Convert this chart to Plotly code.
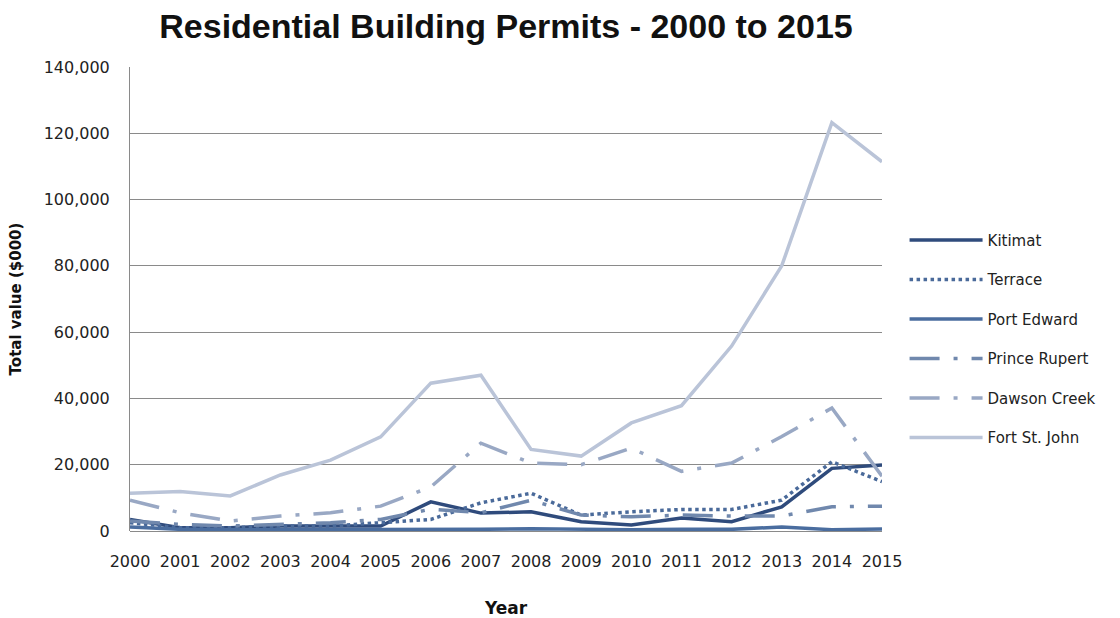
import plotly.graph_objects as go

years = list(range(2000, 2016))

kitimat = [3500, 1000, 1000, 1500, 1500, 1500, 8800, 5400, 5800, 2800, 1800, 3900, 2800, 7300, 18900, 19900]
terrace = [2500, 1000, 1000, 1500, 1500, 2500, 3500, 8500, 11400, 4800, 5800, 6500, 6500, 9300, 20900, 14900]
port_edward = [1200, 500, 400, 400, 400, 400, 600, 500, 700, 500, 400, 500, 500, 1200, 400, 600]
prince_rupert = [3000, 2000, 1500, 2000, 2500, 3500, 6600, 5500, 9300, 4800, 4300, 4800, 4500, 4500, 7300, 7500]
dawson_creek = [9300, 5500, 3000, 4500, 5500, 7500, 13300, 26500, 20500, 20000, 25000, 18000, 20500, 28500, 37100, 16500]
fort_st_john = [11400, 11900, 10600, 16900, 21400, 28400, 44600, 47000, 24600, 22600, 32600, 37800, 55800, 80000, 123200, 111400]

long_dash_dot = "30px,14px,4px,14px"
series = [
    ("Kitimat", kitimat, "#2f4b7c", "solid"),
    ("Terrace", terrace, "#4a6a9a", "dot"),
    ("Port Edward", port_edward, "#4a6d9f", "solid"),
    ("Prince Rupert", prince_rupert, "#7088ad", long_dash_dot),
    ("Dawson Creek", dawson_creek, "#99a8c4", long_dash_dot),
    ("Fort St. John", fort_st_john, "#bac4d8", "solid"),
]

fig = go.Figure()
for name, values, color, dash in series:
    fig.add_trace(go.Scatter(
        x=years, y=values, name=name, mode="lines",
        line=dict(color=color, dash=dash, width=3.5),
        legendgroup=name,
    ))

tick_font = dict(family="DejaVu Sans", size=16, color="#222222")

fig.update_layout(
    width=1120, height=618,
    margin=dict(l=130, r=238, t=67, b=87),
    paper_bgcolor="white", plot_bgcolor="white",
    title=dict(
        text="<b>Residential Building Permits - 2000 to 2015</b>",
        font=dict(family="Liberation Sans Narrow, Arial Narrow, sans-serif", size=34, color="#111111"),
        x=0.5, xref="paper", xanchor="center", y=0.957, yanchor="middle",
    ),
    xaxis=dict(
        range=[2000, 2015], tickmode="array", tickvals=years,
        ticktext=[str(y) for y in years],
        showgrid=False, zeroline=False, showline=False, automargin=False,
        tickfont=tick_font, ticklabelstandoff=19,
        title=dict(text="<b>Year</b>", font=dict(family="DejaVu Sans", size=17, color="#111111"), standoff=33),
    ),
    yaxis=dict(
        range=[0, 140000], dtick=20000, tickformat=",",
        showgrid=True, gridcolor="#8a8a8a", gridwidth=1,
        zeroline=True, zerolinecolor="#8a8a8a", zerolinewidth=1,
        showline=True, linecolor="#8a8a8a", linewidth=1, automargin=False,
        tickfont=tick_font, ticklabelstandoff=16,
        title=dict(text="<b>Total value ($000)</b>", font=dict(family="DejaVu Sans", size=15, color="#111111"), standoff=18),
    ),
    legend=dict(
        x=1.03, xanchor="left", y=0.662, yanchor="top",
        font=dict(family="DejaVu Sans", size=15, color="#222222"),
        tracegroupgap=17, itemwidth=73,
        bgcolor="rgba(0,0,0,0)",
    ),
    showlegend=True,
)

fig.write_html("out.html")
